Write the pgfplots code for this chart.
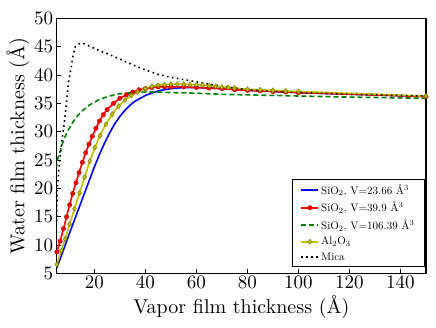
\documentclass[border=0pt]{standalone}
\usepackage{fontspec}
\setmainfont{lmroman10-regular.otf}[BoldFont=lmroman10-bold.otf, ItalicFont=lmroman10-italic.otf]
\usepackage{pgfplots}
\pgfplotsset{compat=1.18}
\definecolor{myyellow}{rgb}{0.75,0.75,0}
\definecolor{mygreen}{rgb}{0,0.5,0}
\begin{document}
\begin{tikzpicture}
\begin{axis}[
  name=ax,
  scale only axis,
  width=369pt, height=255pt,
  xmin=5.25, xmax=150, ymin=5, ymax=50,
  xtick={20,40,...,140},
  ytick={5,10,...,50},
  xtick pos=lower, ytick pos=left,
  tick align=inside,
  major tick length=4pt,
  /pgf/number format/assume math mode=true,
  axis line style={line width=1.1pt},
  every tick/.style={black, line width=0.8pt},
  tick label style={font=\fontsize{19}{22}\selectfont},
  xticklabel style={yshift=1pt},
  label style={font=\fontsize{20}{24}\selectfont},
  xlabel={Vapor film thickness (\AA)},
  ylabel={Water film thickness (\AA)},
  xlabel style={yshift=1pt},
  ylabel style={yshift=-2pt},
  legend style={at={(0.997,0.025)}, anchor=south east, font=\fontsize{11}{12}\selectfont,
    draw=black, line width=0.8pt, row sep=2.2pt, inner ysep=3pt, inner xsep=8pt,
    cells={anchor=west}},
  legend cell align=left,
]
\addplot[blue, line width=1.6pt] coordinates {
(5.3,6.0)(8,9.3)(10,11.8)(12,14.2)(14,16.6)(16,19.0)(18,21.4)(20,23.8)(22,26.0)(24,28.0)(26,29.8)(28,31.4)(30,32.7)(32,33.8)(34,34.7)(36,35.4)(38,35.9)(40,36.4)(43,36.9)(46,37.3)(50,37.6)(55,37.8)(60,37.8)(65,37.7)(70,37.6)(80,37.3)(90,37.1)(100,36.9)(150,36.2)};
\addlegendentry{SiO$_2$, V=23.66 \AA$^3$}
\addplot[red, line width=1.6pt, mark=*, mark size=2.2pt, mark options={fill=red, draw=red!70!black, line width=0.4pt}] coordinates {
(5.3,8.8)(6.6,10.7)(7.9,12.9)(9.1,15.0)(10.3,17.1)(11.5,19.1)(12.8,21.0)(14.0,22.8)(15.3,24.6)(16.6,26.3)(17.9,27.8)(19.2,29.2)(20.6,30.6)(22.0,31.9)(23.5,33.0)(25.0,33.9)(27.5,35.0)(30.0,35.9)(32.5,36.5)(35.0,37.0)(37.5,37.4)(40.0,37.6)(42.5,37.8)(45.0,37.9)(47.5,37.9)(50.0,37.9)(55.0,37.9)(60.0,37.8)(65.0,37.7)(70.0,37.6)(75.0,37.4)(80.0,37.3)(85.0,37.2)(90.0,37.1)(95.0,37.0)(100.0,36.9)(150.0,36.2)};
\addlegendentry{SiO$_2$, V=39.9 \AA$^3$}
\addplot[mygreen, line width=1.6pt, dash pattern=on 5pt off 3pt] coordinates {
(5.0,23.5)(5.5,25.0)(6.6,26.6)(8,28.6)(9.2,29.8)(11,31.3)(13,32.6)(15,33.6)(18,34.7)(22,35.7)(26,36.3)(30,36.7)(35,36.9)(40,37.0)(45,37.0)(50,36.9)(60,36.8)(70,36.6)(80,36.5)(90,36.4)(100,36.3)(120,36.1)(150,35.9)};
\addlegendentry{SiO$_2$, V=106.39 \AA$^3$}
\addplot[myyellow, line width=1.6pt, mark=diamond*, mark size=2.6pt, mark options={fill=myyellow, draw=myyellow!60!black, line width=0.4pt}] coordinates {
(5.3,6.6)(7.0,9.0)(8.5,11.1)(10.3,13.7)(12.2,16.4)(14.2,19.2)(16.2,22.0)(18.2,24.8)(20.2,27.2)(22.2,29.3)(24.5,31.3)(27.0,33.1)(29.5,34.5)(32.0,35.6)(34.5,36.4)(37.0,37.0)(40.0,37.6)(42.5,38.0)(45.0,38.2)(47.5,38.3)(50.0,38.4)(52.5,38.4)(55.0,38.4)(57.5,38.3)(60.0,38.3)(62.5,38.2)(65,38.1)(67.5,38.0)(70,37.9)(72.5,37.8)(75,37.7)(80,37.5)(85,37.4)(90,37.3)(95,37.2)(100,37.1)(150,36.3)};
\addlegendentry{Al$_2$O$_3$}
\addplot[black, line width=1.6pt, dash pattern=on 1.6pt off 3.4pt] coordinates {
(4.8,8)(5.2,15)(5.5,20)(6.2,24)(7.3,28.5)(8.6,33.0)(9.8,38.5)(10.9,41.3)(11.5,43.1)(12.4,44.9)(14,45.5)(15.6,45.6)(18.5,45.0)(22,44.3)(26,43.6)(30,42.8)(35,41.8)(40,40.9)(45,40.1)(50,39.6)(55,39.2)(60,38.8)(65,38.4)(70,38.0)(80,37.4)(90,37.1)(100,36.9)(120,36.6)(150,36.3)};
\addlegendentry{Mica}
\end{axis}
\pgfresetboundingbox
\path[use as bounding box] ([shift={(-56.7pt,-54pt)}]ax.south west) rectangle ([shift={(10pt,18.3pt)}]ax.north east);
\end{tikzpicture}
\end{document}
